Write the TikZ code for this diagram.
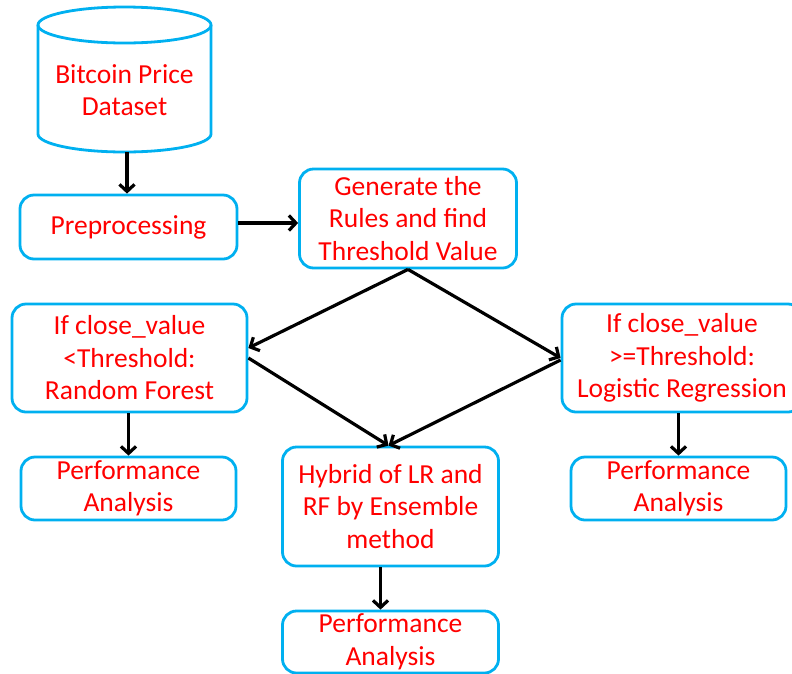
\documentclass[tikz,border=0pt]{standalone}
\usepackage{fontspec}
\setmainfont{Carlito}
\usetikzlibrary{arrows.meta}
\definecolor{bordercyan}{HTML}{00B0F0}
\definecolor{txtred}{HTML}{FF0000}
\begin{document}
\begin{tikzpicture}[x=1pt,y={(0pt,-1pt)},
  box/.style={draw=bordercyan, line width=2.8pt, rounded corners=14pt, fill=white,
    text=txtred, align=center, font=\fontsize{27.5}{32.5}\selectfont, inner sep=0pt},
  cyl/.style={draw=bordercyan, line width=2.8pt},
  lbl/.style={text=txtred, align=center, font=\fontsize{27.5}{32.5}\selectfont, inner sep=0pt},
  arr/.style={draw=black, line width=3.2pt, -{Straight Barb[length=7pt,width=15pt]}}
]
\useasboundingbox (0,0) rectangle (792,673);
% cylinder
\draw[cyl] (38,25) -- (38,134) arc[start angle=180,end angle=0,x radius=86.5,y radius=18] -- (211,25);
\draw[cyl] (124.5,25) ellipse [x radius=86.5, y radius=18];
\node[lbl] (ds) at (124.5,90) {Bitcoin Price\\Dataset};
\coordinate (dsb) at (127,152);
% boxes
\node[box, minimum width=217pt, minimum height=64pt] (prep) at (128.5,227) {Preprocessing};
\node[box, minimum width=217pt, minimum height=99pt] (gen) at (408,218.5) {Generate the\\Rules and find\\Threshold Value};
\node[box, minimum width=235pt, minimum height=108pt] (left) at (129.5,358) {If close\_value\\<Threshold:\\Random Forest};
\node[box, minimum width=240pt, minimum height=108pt] (right) at (682,358) {If close\_value\\>=Threshold:\\Logistic Regression};
\node[box, minimum width=215pt, minimum height=63pt] (perfL) at (128.5,488.5) {Performance\\Analysis};
\node[box, minimum width=215pt, minimum height=63pt] (perfR) at (678.5,488.5) {Performance\\Analysis};
\node[box, minimum width=216pt, minimum height=119pt] (hyb) at (390.5,506.5) {Hybrid of LR and\\RF by Ensemble\\method};
\node[box, minimum width=216pt, minimum height=62pt] (perfB) at (390.5,642) {Performance\\Analysis};
% connectors
\draw[arr] (dsb) -- (dsb |- prep.north);
\draw[arr] ([yshift=4pt]prep.east) -- ([yshift=4pt]prep.east -| gen.west);
\draw[arr] (gen.south) -- ([yshift=10pt]left.east);
\draw[arr] (gen.south) -- (right.west);
\draw[arr] (left.east) -- ([xshift=-2pt]hyb.north);
\draw[arr] ([yshift=-2pt]right.west) -- ([xshift=-2pt]hyb.north);
\draw[arr] (perfL.north |- left.south) -- (perfL.north);
\draw[arr] (perfR.north |- right.south) -- (perfR.north);
\draw[arr] ([xshift=-10pt]hyb.south) -- ([xshift=-10pt]perfB.north);
\end{tikzpicture}
\end{document}
